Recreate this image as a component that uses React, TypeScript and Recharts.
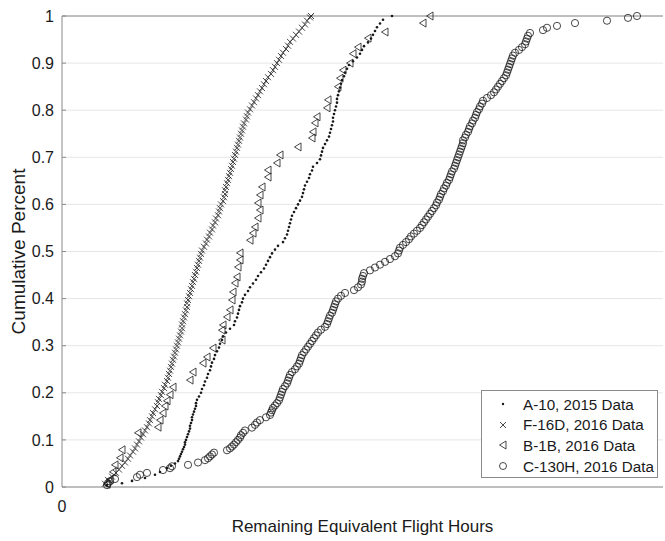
import React from "react";
import {
  ScatterChart,
  Scatter,
  XAxis,
  YAxis,
  CartesianGrid,
  Legend,
  ReferenceLine,
} from "recharts";

// [remaining hours (chart units), cumulative fraction]
const a10: [number, number][] = [
  [45, 0.004], [60, 0.008], [70, 0.013], [83, 0.019], [93, 0.026], [98, 0.032], [105, 0.04], [109, 0.045],
  [113, 0.05], [116, 0.055], [117, 0.06], [118, 0.065], [119, 0.07], [120, 0.075], [121, 0.08], [122, 0.085],
  [123, 0.09], [123, 0.095], [124, 0.1], [125, 0.106], [126, 0.112], [127, 0.118], [128, 0.124], [128, 0.13],
  [129, 0.136], [130, 0.142], [130, 0.148], [131, 0.154], [132, 0.16], [133, 0.166], [134, 0.172], [134, 0.178],
  [135, 0.185], [137, 0.192], [139, 0.2], [140, 0.208], [142, 0.216], [143, 0.224], [145, 0.232], [146, 0.24],
  [148, 0.248], [149, 0.256], [150, 0.264], [152, 0.272], [153, 0.28], [155, 0.288], [157, 0.296], [158, 0.304],
  [160, 0.312], [161, 0.32], [164, 0.328], [168, 0.336], [172, 0.344], [173, 0.352], [175, 0.36], [176, 0.368],
  [177, 0.376], [178, 0.384], [180, 0.392], [181, 0.4], [183, 0.408], [186, 0.416], [188, 0.424], [191, 0.432],
  [194, 0.44], [196, 0.448], [199, 0.456], [202, 0.464], [204, 0.472], [206, 0.48], [208, 0.488], [210, 0.496],
  [213, 0.504], [216, 0.512], [221, 0.52], [223, 0.528], [225, 0.536], [226, 0.544], [227, 0.552], [228, 0.56],
  [229, 0.568], [230, 0.576], [232, 0.584], [234, 0.592], [236, 0.6], [238, 0.608], [240, 0.616], [241, 0.624],
  [242, 0.632], [243, 0.64], [245, 0.648], [247, 0.656], [248, 0.664], [250, 0.672], [251, 0.68], [255, 0.688],
  [258, 0.696], [259, 0.704], [260, 0.712], [261, 0.72], [263, 0.728], [265, 0.736], [267, 0.744], [268, 0.752],
  [269, 0.76], [270, 0.768], [271, 0.776], [271, 0.784], [272, 0.792], [273, 0.8], [274, 0.808], [275, 0.816],
  [275, 0.824], [276, 0.832], [277, 0.84], [278, 0.848], [279, 0.856], [280, 0.864], [282, 0.872], [283, 0.88],
  [285, 0.888], [287, 0.896], [291, 0.904], [295, 0.912], [298, 0.92], [300, 0.928], [302, 0.936], [306, 0.944],
  [309, 0.952], [311, 0.96], [313, 0.968], [315, 0.976], [318, 0.984], [321, 0.992], [330, 1.0],
];

const f16d: [number, number][] = [
  [43, 0.007], [46, 0.015], [50, 0.022], [54, 0.03], [57, 0.037], [60, 0.045], [63, 0.052], [66, 0.06],
  [68, 0.067], [71, 0.075], [73, 0.082], [75, 0.09], [77, 0.097], [79, 0.105], [81, 0.112], [83, 0.12],
  [85, 0.127], [87, 0.135], [88, 0.142], [90, 0.15], [91, 0.157], [93, 0.165], [95, 0.172], [96, 0.18],
  [97, 0.187], [99, 0.195], [100, 0.202], [102, 0.21], [103, 0.217], [105, 0.225], [106, 0.232], [107, 0.24],
  [108, 0.247], [109, 0.255], [110, 0.262], [111, 0.27], [112, 0.277], [113, 0.285], [114, 0.292], [115, 0.3],
  [116, 0.307], [117, 0.315], [118, 0.322], [119, 0.33], [120, 0.337], [120, 0.345], [121, 0.352], [122, 0.36],
  [123, 0.367], [124, 0.375], [125, 0.382], [125, 0.39], [126, 0.397], [127, 0.405], [128, 0.412], [129, 0.42],
  [130, 0.427], [131, 0.435], [132, 0.442], [133, 0.45], [134, 0.457], [135, 0.465], [136, 0.472], [137, 0.48],
  [138, 0.487], [139, 0.495], [140, 0.502], [142, 0.51], [144, 0.517], [145, 0.525], [147, 0.532], [148, 0.54],
  [150, 0.547], [151, 0.555], [153, 0.562], [154, 0.57], [156, 0.577], [157, 0.585], [158, 0.592], [159, 0.6],
  [161, 0.607], [162, 0.615], [163, 0.622], [163, 0.63], [164, 0.637], [165, 0.645], [166, 0.652], [167, 0.66],
  [168, 0.667], [169, 0.675], [170, 0.682], [171, 0.69], [172, 0.697], [173, 0.705], [174, 0.712], [175, 0.72],
  [176, 0.727], [177, 0.735], [178, 0.742], [179, 0.75], [180, 0.757], [181, 0.765], [182, 0.772], [184, 0.78],
  [185, 0.787], [186, 0.795], [188, 0.802], [190, 0.81], [192, 0.817], [194, 0.825], [196, 0.832], [198, 0.84],
  [200, 0.847], [202, 0.855], [204, 0.862], [206, 0.87], [209, 0.877], [211, 0.885], [213, 0.892], [215, 0.9],
  [217, 0.907], [219, 0.915], [221, 0.922], [224, 0.93], [226, 0.937], [228, 0.945], [231, 0.952], [234, 0.96],
  [237, 0.967], [240, 0.975], [243, 0.982], [245, 0.99], [248, 0.997], [249, 1.0],
];

const b1b: [number, number][] = [
  [45, 0.006], [48, 0.016], [51, 0.032], [53, 0.047], [58, 0.062], [60, 0.079], [76, 0.115], [96, 0.127],
  [98, 0.142], [101, 0.157], [103, 0.172], [105, 0.183], [108, 0.196], [111, 0.212], [128, 0.227], [131, 0.244],
  [141, 0.263], [145, 0.276], [151, 0.295], [160, 0.312], [160, 0.333], [161, 0.344], [165, 0.361], [168, 0.376],
  [170, 0.397], [171, 0.414], [173, 0.433], [175, 0.446], [176, 0.467], [178, 0.482], [178, 0.497], [188, 0.524],
  [191, 0.539], [193, 0.552], [196, 0.571], [198, 0.588], [196, 0.603], [198, 0.62], [200, 0.637], [206, 0.658],
  [206, 0.673], [215, 0.688], [218, 0.705], [236, 0.722], [250, 0.741], [251, 0.754], [253, 0.773], [255, 0.786],
  [265, 0.805], [266, 0.822], [276, 0.85], [278, 0.868], [281, 0.885], [288, 0.9], [291, 0.92], [296, 0.934],
  [306, 0.953], [323, 0.966], [361, 0.985], [368, 1.0],
];

const c130h: [number, number][] = [
  [45, 0.004], [46, 0.008], [48, 0.012], [53, 0.017], [75, 0.021], [78, 0.026], [85, 0.03], [101, 0.036],
  [108, 0.04], [110, 0.044], [126, 0.047], [136, 0.052], [143, 0.057], [146, 0.061], [148, 0.065], [150, 0.069],
  [152, 0.073], [165, 0.078], [168, 0.082], [170, 0.086], [172, 0.09], [174, 0.095], [176, 0.1], [178, 0.105],
  [179, 0.11], [181, 0.115], [183, 0.12], [190, 0.126], [193, 0.132], [195, 0.137], [198, 0.142], [204, 0.148],
  [208, 0.153], [209, 0.158], [210, 0.163], [211, 0.168], [213, 0.173], [215, 0.178], [217, 0.184], [218, 0.19],
  [219, 0.196], [220, 0.202], [221, 0.208], [223, 0.214], [225, 0.22], [226, 0.226], [227, 0.232], [228, 0.238],
  [230, 0.244], [233, 0.25], [235, 0.256], [237, 0.262], [238, 0.268], [239, 0.274], [240, 0.28], [242, 0.286],
  [244, 0.292], [246, 0.298], [248, 0.304], [250, 0.31], [252, 0.316], [254, 0.322], [256, 0.328], [259, 0.334],
  [263, 0.34], [265, 0.346], [266, 0.352], [267, 0.358], [268, 0.364], [270, 0.37], [271, 0.376], [272, 0.382],
  [273, 0.388], [274, 0.394], [276, 0.4], [279, 0.406], [283, 0.412], [292, 0.418], [296, 0.424], [299, 0.43],
  [300, 0.436], [300, 0.442], [301, 0.448], [302, 0.454], [308, 0.46], [313, 0.466], [318, 0.472], [323, 0.478],
  [328, 0.484], [333, 0.49], [336, 0.496], [337, 0.502], [338, 0.508], [341, 0.514], [344, 0.52], [347, 0.526],
  [349, 0.532], [352, 0.538], [355, 0.544], [358, 0.55], [360, 0.556], [362, 0.562], [364, 0.568], [366, 0.574],
  [368, 0.58], [370, 0.586], [372, 0.592], [374, 0.598], [375, 0.604], [377, 0.61], [378, 0.616], [379, 0.622],
  [381, 0.628], [382, 0.634], [384, 0.64], [385, 0.646], [387, 0.652], [388, 0.658], [389, 0.664], [390, 0.67],
  [392, 0.676], [393, 0.682], [394, 0.688], [395, 0.694], [396, 0.7], [397, 0.706], [398, 0.712], [399, 0.718],
  [400, 0.724], [401, 0.73], [401, 0.736], [403, 0.742], [404, 0.748], [406, 0.754], [407, 0.76], [408, 0.766],
  [410, 0.772], [411, 0.778], [413, 0.784], [414, 0.79], [415, 0.796], [417, 0.802], [418, 0.808], [420, 0.814],
  [421, 0.82], [425, 0.826], [429, 0.832], [432, 0.838], [434, 0.844], [436, 0.85], [438, 0.856], [440, 0.862],
  [442, 0.868], [444, 0.874], [445, 0.88], [446, 0.886], [447, 0.892], [448, 0.898], [449, 0.904], [450, 0.91],
  [451, 0.916], [453, 0.922], [457, 0.928], [460, 0.934], [463, 0.94], [464, 0.946], [465, 0.952], [466, 0.958],
  [468, 0.964], [481, 0.97], [485, 0.975], [495, 0.979], [513, 0.985], [545, 0.99], [566, 0.996], [575, 1.0],
];

const yTicks = [0, 0.1, 0.2, 0.3, 0.4, 0.5, 0.6, 0.7, 0.8, 0.9, 1];
const xTicks = [0];

const seriesNames = ["A-10, 2015 Data", "F-16D, 2016 Data", "B-1B, 2016 Data", "C-130H, 2016 Data"];

const FONT = "'Liberation Sans', Arial, Helvetica, sans-serif";
const INK = "#1a1a1a";
const AXIS = "#8a8a8a";

const toPoints = (rows: [number, number][]) => rows.map(([x, y]) => ({ x, y }));

const DotMark = (p: any) => <circle cx={p.cx} cy={p.cy} r={1.3} fill={INK} />;

const CrossMark = (p: any) => {
  const s = 3;
  return (
    <path
      d={`M${p.cx - s},${p.cy - s}L${p.cx + s},${p.cy + s}M${p.cx - s},${p.cy + s}L${p.cx + s},${p.cy - s}`}
      stroke={INK}
      strokeWidth={0.8}
      fill="none"
    />
  );
};

const TriMark = (p: any) => (
  <path
    d={`M${p.cx - 3.5},${p.cy}L${p.cx + 3},${p.cy - 4}L${p.cx + 3},${p.cy + 4}Z`}
    stroke={INK}
    strokeWidth={0.8}
    fill="none"
  />
);

const CircleMark = (p: any) => (
  <circle cx={p.cx} cy={p.cy} r={3.6} stroke={INK} strokeWidth={0.8} fill="none" />
);

function legendIcon(i: number) {
  const cx = 8;
  const cy = 8;
  if (i === 0) return <circle cx={cx} cy={cy} r={1.2} fill={INK} />;
  if (i === 1)
    return (
      <path d={`M${cx - 3},${cy - 3}L${cx + 3},${cy + 3}M${cx - 3},${cy + 3}L${cx + 3},${cy - 3}`} stroke={INK} strokeWidth={0.8} />
    );
  if (i === 2)
    return <path d={`M${cx - 3.5},${cy}L${cx + 3},${cy - 4}L${cx + 3},${cy + 4}Z`} stroke={INK} strokeWidth={0.8} fill="none" />;
  return <circle cx={cx} cy={cy} r={3.5} stroke={INK} strokeWidth={0.8} fill="none" />;
}

function LegendBox() {
  return (
    <div
      style={{
        background: "#fff",
        border: "1px solid " + AXIS,
        width: 177,
        height: 88,
        boxSizing: "border-box",
        padding: "3px 0 0 0",
        fontFamily: FONT,
        fontSize: 15.2,
        color: INK,
        whiteSpace: "nowrap",
      }}
    >
      {seriesNames.map((name, i) => (
        <div key={name} style={{ display: "flex", alignItems: "center", height: 20.6 }}>
          <svg width={16} height={16} style={{ marginLeft: 13, marginRight: 12, flex: "none" }}>
            {legendIcon(i)}
          </svg>
          <span>{name}</span>
        </div>
      ))}
    </div>
  );
}

function YLabel(props: any) {
  const vb = props.viewBox || {};
  const x = 18;
  const y = vb.y + vb.height / 2;
  return (
    <text x={x} y={y} transform={`rotate(-90 ${x} ${y})`} textAnchor="middle" dominantBaseline="central" fill={INK} fontSize={19} fontFamily={FONT}>
      Cumulative Percent
    </text>
  );
}

const noTick = () => <g />;

export default function App() {
  return (
    <div style={{ position: "absolute", left: 0, top: 0, width: 665, height: 541, background: "#fff" }}>
      <ScatterChart width={665} height={541} margin={{ top: 16, right: 0, bottom: 0, left: 0 }}>
        <CartesianGrid horizontal vertical={false} stroke="#e6e6e6" />
        <XAxis
          type="number"
          dataKey="x"
          domain={[0, 601]}
          ticks={xTicks}
          height={54}
          stroke={AXIS}
          tickLine={false}
          tickMargin={8}
          tick={{ fill: INK, fontSize: 16, fontFamily: FONT }}
          label={{ value: "Remaining Equivalent Flight Hours", position: "insideBottom", offset: 9, fill: INK, fontSize: 17, fontFamily: FONT }}
        />
        <YAxis
          type="number"
          dataKey="y"
          domain={[0, 1]}
          ticks={yTicks}
          width={62}
          stroke={AXIS}
          tickSize={-4}
          tickMargin={12}
          tick={{ fill: INK, fontSize: 16, fontFamily: FONT }}
          label={<YLabel />}
        />
        <YAxis
          yAxisId="right"
          orientation="right"
          type="number"
          domain={[0, 1]}
          ticks={yTicks}
          width={2}
          axisLine={false}
          stroke={AXIS}
          tickSize={-4}
          tick={noTick}
        />
        <ReferenceLine y={1} stroke={AXIS} strokeWidth={1} />
        <Scatter name={seriesNames[0]} data={toPoints(a10)} shape={DotMark} isAnimationActive={false} />
        <Scatter name={seriesNames[1]} data={toPoints(f16d)} shape={CrossMark} isAnimationActive={false} />
        <Scatter name={seriesNames[2]} data={toPoints(b1b)} shape={TriMark} isAnimationActive={false} />
        <Scatter name={seriesNames[3]} data={toPoints(c130h)} shape={CircleMark} isAnimationActive={false} />
        <Legend
          layout="vertical"
          align="center"
          verticalAlign="middle"
          content={<LegendBox />}
          wrapperStyle={{ position: "absolute", left: 481, top: 390, width: 177, height: 88, bottom: "auto", right: "auto" }}
        />
      </ScatterChart>
    </div>
  );
}
